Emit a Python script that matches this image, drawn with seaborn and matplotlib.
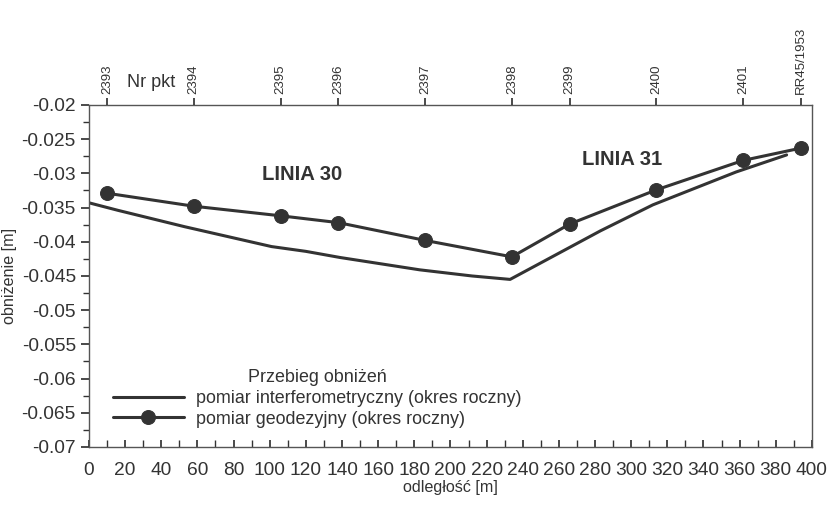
import pandas as pd
import seaborn as sns
import matplotlib.pyplot as plt
from matplotlib.ticker import MultipleLocator

# interferometric profile (distance [m], subsidence [m])
insar_x = [0, 16, 53, 101, 120, 139, 183, 212, 233, 283, 312, 358, 386]
insar_y = [-0.0343, -0.0354, -0.0378, -0.0407, -0.0414, -0.0423, -0.0441,
           -0.0450, -0.0455, -0.0384, -0.0346, -0.0298, -0.0273]

# levelling points
geo_x = [10, 58, 106, 138, 186, 234, 266, 314, 362, 394]
geo_y = [-0.0329, -0.0348, -0.0362, -0.0372, -0.0398, -0.0422, -0.0374,
         -0.0324, -0.0281, -0.0263]
point_names = ["2393", "2394", "2395", "2396", "2397", "2398", "2399",
               "2400", "2401", "RR45/1953"]

insar = pd.DataFrame({"x": insar_x, "y": insar_y})
geo = pd.DataFrame({"x": geo_x, "y": geo_y})

sns.set_theme(style="ticks")
plt.rcParams['font.family'] = ['Liberation Sans', 'DejaVu Sans']

ink = "#333333"
fig = plt.figure(figsize=(8.3, 5.05), dpi=100)
ax = fig.add_axes([0.1072, 0.1149, 0.8710, 0.6772])

sns.lineplot(data=insar, x="x", y="y", color=ink, linewidth=2.2, ax=ax,
             label="pomiar interferometryczny (okres roczny)")
sns.lineplot(data=geo, x="x", y="y", color=ink, linewidth=2.2, marker="o",
             markersize=10, markeredgecolor=ink, ax=ax,
             label="pomiar geodezyjny (okres roczny)")

ax.set_xlim(0, 400)
ax.xaxis.set_major_locator(MultipleLocator(20))
ax.xaxis.set_minor_locator(MultipleLocator(10))
yt = [-0.07, -0.065, -0.06, -0.055, -0.05, -0.045, -0.04, -0.035, -0.03,
      -0.025, -0.02]
ax.set_yticks(yt)
ax.set_yticklabels([f"{v:g}" for v in yt])
ax.yaxis.set_minor_locator(MultipleLocator(0.0025))
ax.set_ylim(-0.07, -0.02)
ax.tick_params(axis="x", which="both", direction="in", length=5, colors=ink,
               labelsize=13.8, pad=10.5)
ax.tick_params(axis="y", which="major", direction="out", length=6, colors=ink,
               labelsize=13.8)
ax.tick_params(axis="y", which="minor", direction="out", length=4, colors=ink)
for s in ax.spines.values():
    s.set_color("#555555")
    s.set_linewidth(1)

ax.set_xlabel("odległość [m]", fontsize=11.6, color=ink, labelpad=1)
ax.set_ylabel("obniżenie [m]", fontsize=11.6, color=ink, labelpad=3)

top = ax.twiny()
top.set_xlim(ax.get_xlim())
top.set_xticks(geo_x)
top.set_xticklabels(point_names, rotation=90, fontsize=9.5, color=ink)
top.tick_params(axis="x", direction="out", length=5, colors=ink, pad=3)
for s in top.spines.values():
    s.set_visible(False)
top.text(21, -0.0167, "Nr pkt", fontsize=13, color=ink, ha="left",
         va="center", transform=ax.transData, clip_on=False)

ax.text(118, -0.0302, "LINIA 30", fontsize=14.6, fontweight="bold",
        color=ink, ha="center", va="center")
ax.text(295, -0.0280, "LINIA 31", fontsize=14.6, fontweight="bold",
        color=ink, ha="center", va="center")

leg = ax.legend(title="Przebieg obniżeń", loc="upper left",
                bbox_to_anchor=(0.0205, 0.253), frameon=False, fontsize=12.9,
                title_fontsize=12.9, handlelength=3.95, borderpad=0,
                labelspacing=0.2, handletextpad=0.67)
for t in leg.get_texts():
    t.set_color(ink)
leg.get_title().set_color(ink)

fig.savefig("out.png", dpi=100)
